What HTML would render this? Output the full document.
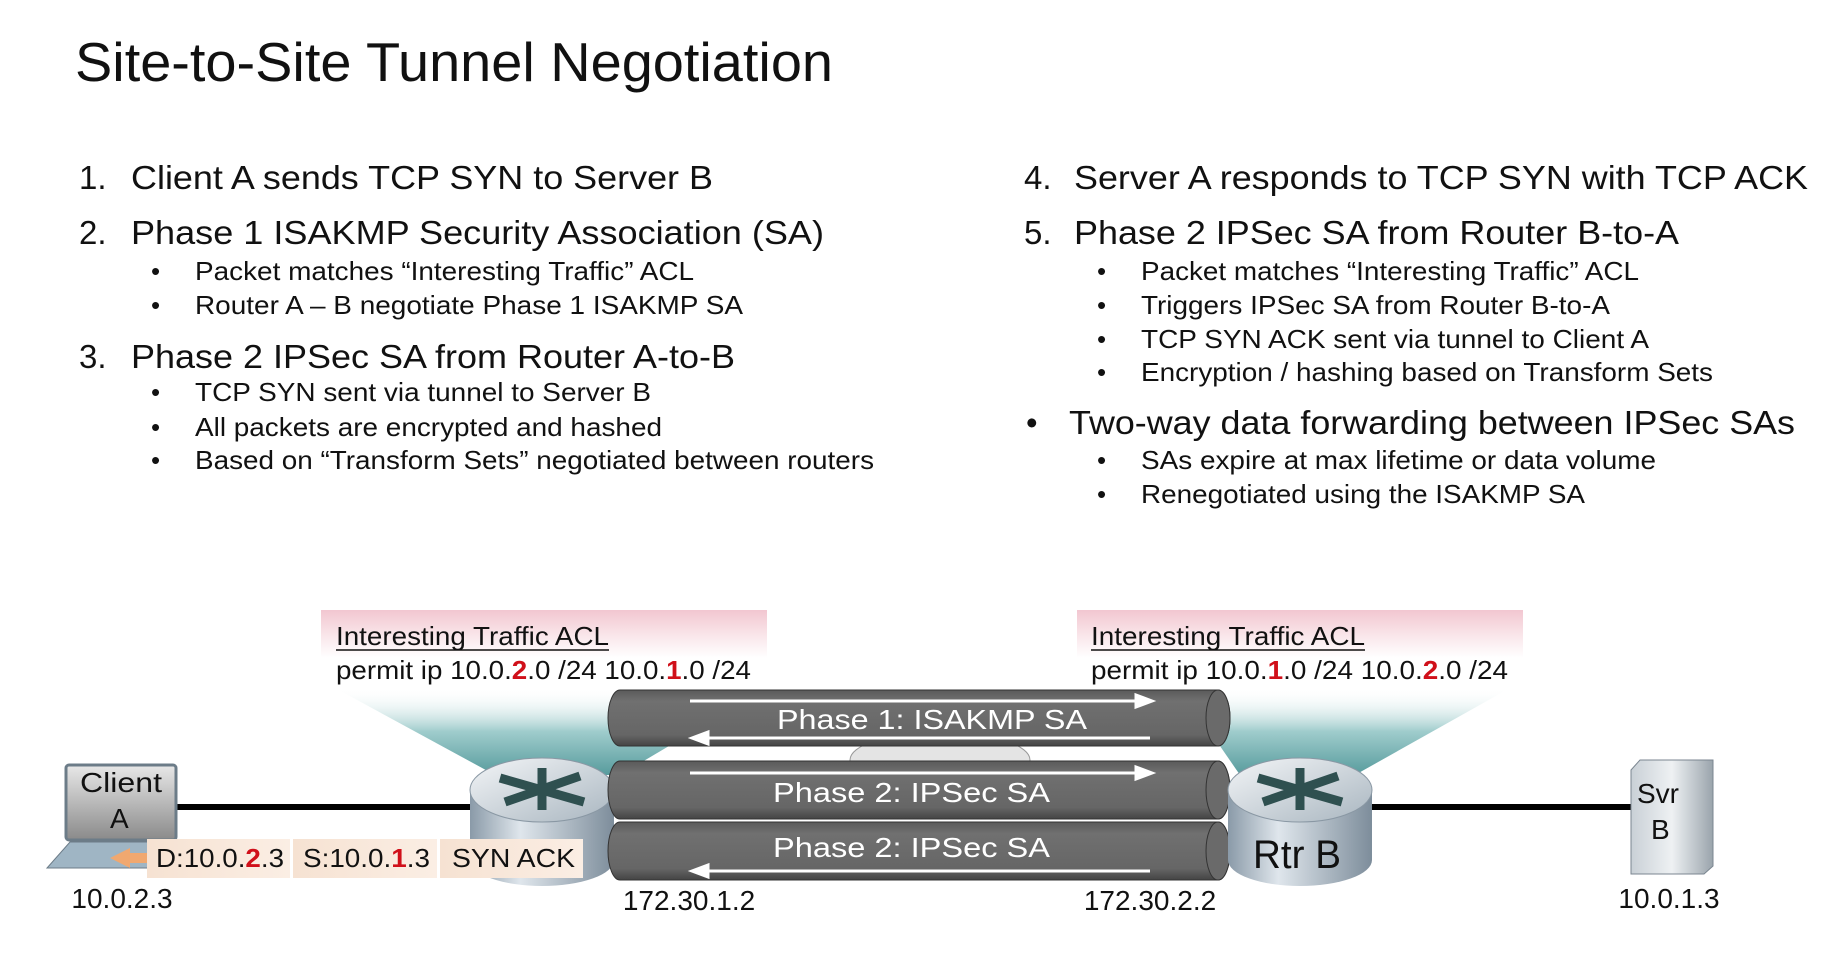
<!DOCTYPE html>
<html><head><meta charset="utf-8"><style>
html,body{margin:0;padding:0;background:#fff;width:1840px;height:961px;overflow:hidden}
svg{display:block}
text{font-family:"Liberation Sans",Arial,sans-serif;fill:#111}
</style></head><body>
<svg width="1840" height="961" viewBox="0 0 1840 961" xmlns="http://www.w3.org/2000/svg">
<defs>
<linearGradient id="pink" x1="0" y1="0" x2="0" y2="1">
<stop offset="0" stop-color="#f2c6d0"/><stop offset="0.6" stop-color="#fff" stop-opacity="0.9"/><stop offset="1" stop-color="#fff" stop-opacity="0"/></linearGradient>
<linearGradient id="teal" x1="0" y1="0" x2="0" y2="1">
<stop offset="0" stop-color="#fff" stop-opacity="0"/><stop offset="0.5" stop-color="#8ec3c3"/><stop offset="1" stop-color="#3a8a8c"/></linearGradient>
<linearGradient id="rtr" x1="0" y1="0" x2="1" y2="0">
<stop offset="0" stop-color="#8a9aa8"/><stop offset="0.35" stop-color="#dfe6ec"/><stop offset="1" stop-color="#7d8d9b"/></linearGradient>
<linearGradient id="rtop" x1="0" y1="0" x2="1" y2="1">
<stop offset="0" stop-color="#f3f5f7"/><stop offset="1" stop-color="#a9b6c0"/></linearGradient>
<linearGradient id="tube" x1="0" y1="0" x2="0" y2="1">
<stop offset="0" stop-color="#5a5a5a"/><stop offset="0.2" stop-color="#707070"/><stop offset="0.8" stop-color="#666"/><stop offset="1" stop-color="#444"/></linearGradient>
<linearGradient id="scr" x1="0" y1="0" x2="0" y2="1">
<stop offset="0" stop-color="#e8e8e8"/><stop offset="1" stop-color="#8a8a8a"/></linearGradient>
<linearGradient id="svr" x1="0" y1="0" x2="1" y2="0">
<stop offset="0" stop-color="#c9d0d6"/><stop offset="0.5" stop-color="#eef1f3"/><stop offset="1" stop-color="#9aa4ac"/></linearGradient>
<linearGradient id="pkt" x1="0" y1="0" x2="1" y2="0">
<stop offset="0" stop-color="#f6e2d2"/><stop offset="1" stop-color="#fbeee4"/></linearGradient>
</defs>

<text x="75" y="81" font-size="55" textLength="758" lengthAdjust="spacingAndGlyphs">Site-to-Site Tunnel Negotiation</text>

<g font-size="33">
<text x="79" y="189">1.</text><text x="131" y="189" textLength="582" lengthAdjust="spacingAndGlyphs">Client A sends TCP SYN to Server B</text>
<text x="79" y="244">2.</text><text x="131" y="244" textLength="693" lengthAdjust="spacingAndGlyphs">Phase 1 ISAKMP Security Association (SA)</text>
<text x="79" y="368">3.</text><text x="131" y="368" textLength="604" lengthAdjust="spacingAndGlyphs">Phase 2 IPSec SA from Router A-to-B</text>
</g>
<g font-size="26">
<text x="151" y="280">•</text><text x="195" y="280" textLength="499" lengthAdjust="spacingAndGlyphs">Packet matches “Interesting Traffic” ACL</text>
<text x="151" y="314">•</text><text x="195" y="314" textLength="548" lengthAdjust="spacingAndGlyphs">Router A – B negotiate Phase 1 ISAKMP SA</text>
<text x="151" y="401">•</text><text x="195" y="401" textLength="456" lengthAdjust="spacingAndGlyphs">TCP SYN sent via tunnel to Server B</text>
<text x="151" y="436">•</text><text x="195" y="436" textLength="467" lengthAdjust="spacingAndGlyphs">All packets are encrypted and hashed</text>
<text x="151" y="469">•</text><text x="195" y="469" textLength="679" lengthAdjust="spacingAndGlyphs">Based on “Transform Sets” negotiated between routers</text>
</g>

<g font-size="33">
<text x="1024" y="189">4.</text><text x="1074" y="189" textLength="734" lengthAdjust="spacingAndGlyphs">Server A responds to TCP SYN with TCP ACK</text>
<text x="1024" y="244">5.</text><text x="1074" y="244" textLength="605" lengthAdjust="spacingAndGlyphs">Phase 2 IPSec SA from Router B-to-A</text>
<text x="1026" y="434">•</text><text x="1069" y="434" textLength="726" lengthAdjust="spacingAndGlyphs">Two-way data forwarding between IPSec SAs</text>
</g>
<g font-size="26">
<text x="1097" y="280">•</text><text x="1141" y="280" textLength="498" lengthAdjust="spacingAndGlyphs">Packet matches “Interesting Traffic” ACL</text>
<text x="1097" y="314">•</text><text x="1141" y="314" textLength="469" lengthAdjust="spacingAndGlyphs">Triggers IPSec SA from Router B-to-A</text>
<text x="1097" y="348">•</text><text x="1141" y="348" textLength="508" lengthAdjust="spacingAndGlyphs">TCP SYN ACK sent via tunnel to Client A</text>
<text x="1097" y="381">•</text><text x="1141" y="381" textLength="572" lengthAdjust="spacingAndGlyphs">Encryption / hashing based on Transform Sets</text>
<text x="1097" y="469">•</text><text x="1141" y="469" textLength="515" lengthAdjust="spacingAndGlyphs">SAs expire at max lifetime or data volume</text>
<text x="1097" y="503">•</text><text x="1141" y="503" textLength="444" lengthAdjust="spacingAndGlyphs">Renegotiated using the ISAKMP SA</text>
</g>

<rect x="321" y="610" width="446" height="80" fill="url(#pink)"/>
<rect x="1077" y="610" width="446" height="80" fill="url(#pink)"/>
<polygon points="335,688 767,688 620,775 495,775" fill="url(#teal)" opacity="0.85"/>
<polygon points="1180,688 1510,688 1355,775 1240,775" fill="url(#teal)" opacity="0.85"/>
<g font-size="26">
<text x="336" y="645" textLength="273" lengthAdjust="spacingAndGlyphs">Interesting Traffic ACL</text>
<line x1="336" y1="650" x2="609" y2="650" stroke="#111" stroke-width="1.5"/>
<text x="336" y="679" textLength="415" lengthAdjust="spacingAndGlyphs">permit ip 10.0.<tspan fill="#d0101a" font-weight="bold">2</tspan>.0 /24 10.0.<tspan fill="#d0101a" font-weight="bold">1</tspan>.0 /24</text>
<text x="1091" y="645" textLength="274" lengthAdjust="spacingAndGlyphs">Interesting Traffic ACL</text>
<line x1="1091" y1="650" x2="1365" y2="650" stroke="#111" stroke-width="1.5"/>
<text x="1091" y="679" textLength="417" lengthAdjust="spacingAndGlyphs">permit ip 10.0.<tspan fill="#d0101a" font-weight="bold">1</tspan>.0 /24 10.0.<tspan fill="#d0101a" font-weight="bold">2</tspan>.0 /24</text>
</g>

<line x1="176" y1="807" x2="480" y2="807" stroke="#000" stroke-width="6"/>
<line x1="1360" y1="807" x2="1635" y2="807" stroke="#000" stroke-width="6"/>

<!-- Router A -->
<g>
<path d="M470,790 L470,860 A72,26 0 0 0 614,860 L614,790 Z" fill="url(#rtr)"/>
<ellipse cx="542" cy="790" rx="72" ry="32" fill="url(#rtop)" stroke="#8a98a4"/>
<path d="M500,778 L584,802 M505,802 L580,776 M542,768 L542,810" stroke="#2f5050" stroke-width="9"/>
</g>

<!-- tubes -->
<g>
<ellipse cx="940" cy="760" rx="90" ry="28" fill="#e4e4e4" stroke="#999"/>
<path d="M620,690 L1218,690 A12,28 0 0 1 1218,746 L620,746 A12,28 0 0 1 620,690 Z" fill="url(#tube)" stroke="#333"/>
<ellipse cx="1218" cy="718" rx="12" ry="28" fill="#6a6a6a" stroke="#333"/>
<path d="M620,761 L1218,761 A12,29 0 0 1 1218,819 L620,819 A12,29 0 0 1 620,761 Z" fill="url(#tube)" stroke="#333"/>
<ellipse cx="1218" cy="790" rx="12" ry="29" fill="#6a6a6a" stroke="#333"/>
<path d="M620,822 L1218,822 A12,29 0 0 1 1218,880 L620,880 A12,29 0 0 1 620,822 Z" fill="url(#tube)" stroke="#333"/>
<ellipse cx="1218" cy="851" rx="12" ry="29" fill="#6a6a6a" stroke="#333"/>
<g stroke="#fff" stroke-width="3" fill="#fff">
<line x1="690" y1="701" x2="1140" y2="701"/><polygon points="1152,701 1136,695 1136,707"/>
<line x1="706" y1="738" x2="1150" y2="738"/><polygon points="692,738 708,732 708,744"/>
<line x1="690" y1="773" x2="1140" y2="773"/><polygon points="1152,773 1136,767 1136,779"/>
<line x1="706" y1="871" x2="1150" y2="871"/><polygon points="692,871 708,865 708,877"/>
</g>
<g font-size="28">
<text x="777" y="729" style="fill:#fff" textLength="310" lengthAdjust="spacingAndGlyphs">Phase 1: ISAKMP SA</text>
<text x="773" y="802" style="fill:#fff" textLength="277" lengthAdjust="spacingAndGlyphs">Phase 2: IPSec SA</text>
<text x="773" y="857" style="fill:#fff" textLength="277" lengthAdjust="spacingAndGlyphs">Phase 2: IPSec SA</text>
</g>
</g>

<!-- Router B (in front of tubes) -->
<g>
<path d="M1228,790 L1228,860 A72,26 0 0 0 1372,860 L1372,790 Z" fill="url(#rtr)"/>
<ellipse cx="1300" cy="790" rx="72" ry="32" fill="url(#rtop)" stroke="#8a98a4"/>
<path d="M1258,778 L1342,802 M1263,802 L1338,776 M1300,768 L1300,810" stroke="#2f5050" stroke-width="9"/>
<text x="1253" y="868" font-size="40" textLength="88" lengthAdjust="spacingAndGlyphs">Rtr B</text>
</g>

<!-- Client laptop -->
<g>
<rect x="66" y="765" width="110" height="75" rx="3" fill="url(#scr)" stroke="#6c7c88" stroke-width="3"/>
<polygon points="70,842 170,842 176,868 47,868" fill="#9fb5c4" stroke="#6c7c88"/>
<text x="80" y="792" font-size="28" textLength="82" lengthAdjust="spacingAndGlyphs">Client</text>
<text x="110" y="828" font-size="28">A</text>
</g>
<polygon points="110,858 130,848 130,868" fill="#f0a870"/>
<rect x="128" y="853" width="20" height="10" fill="#f0a870"/>
<rect x="147" y="839" width="143" height="39" fill="url(#pkt)"/>
<rect x="293" y="839" width="144" height="39" fill="url(#pkt)"/>
<rect x="440" y="839" width="143" height="39" fill="url(#pkt)"/>
<g font-size="26">
<text x="156" y="867" textLength="128" lengthAdjust="spacingAndGlyphs">D:10.0.<tspan style="fill:#d0101a" font-weight="bold">2</tspan>.3</text>
<text x="303" y="867" textLength="127" lengthAdjust="spacingAndGlyphs">S:10.0.<tspan style="fill:#d0101a" font-weight="bold">1</tspan>.3</text>
<text x="452" y="867" textLength="123" lengthAdjust="spacingAndGlyphs">SYN ACK</text>
</g>

<g>
<path d="M1631,770 L1640,760 L1713,760 L1713,866 L1704,874 L1631,874 Z" fill="url(#svr)" stroke="#7b8690"/>
<text x="1637" y="803" font-size="28">Svr</text>
<text x="1651" y="839" font-size="28">B</text>
</g>

<g font-size="28">
<text x="122" y="908" text-anchor="middle">10.0.2.3</text>
<text x="689" y="910" text-anchor="middle">172.30.1.2</text>
<text x="1150" y="910" text-anchor="middle">172.30.2.2</text>
<text x="1669" y="908" text-anchor="middle">10.0.1.3</text>
</g>
</svg>
</body></html>
